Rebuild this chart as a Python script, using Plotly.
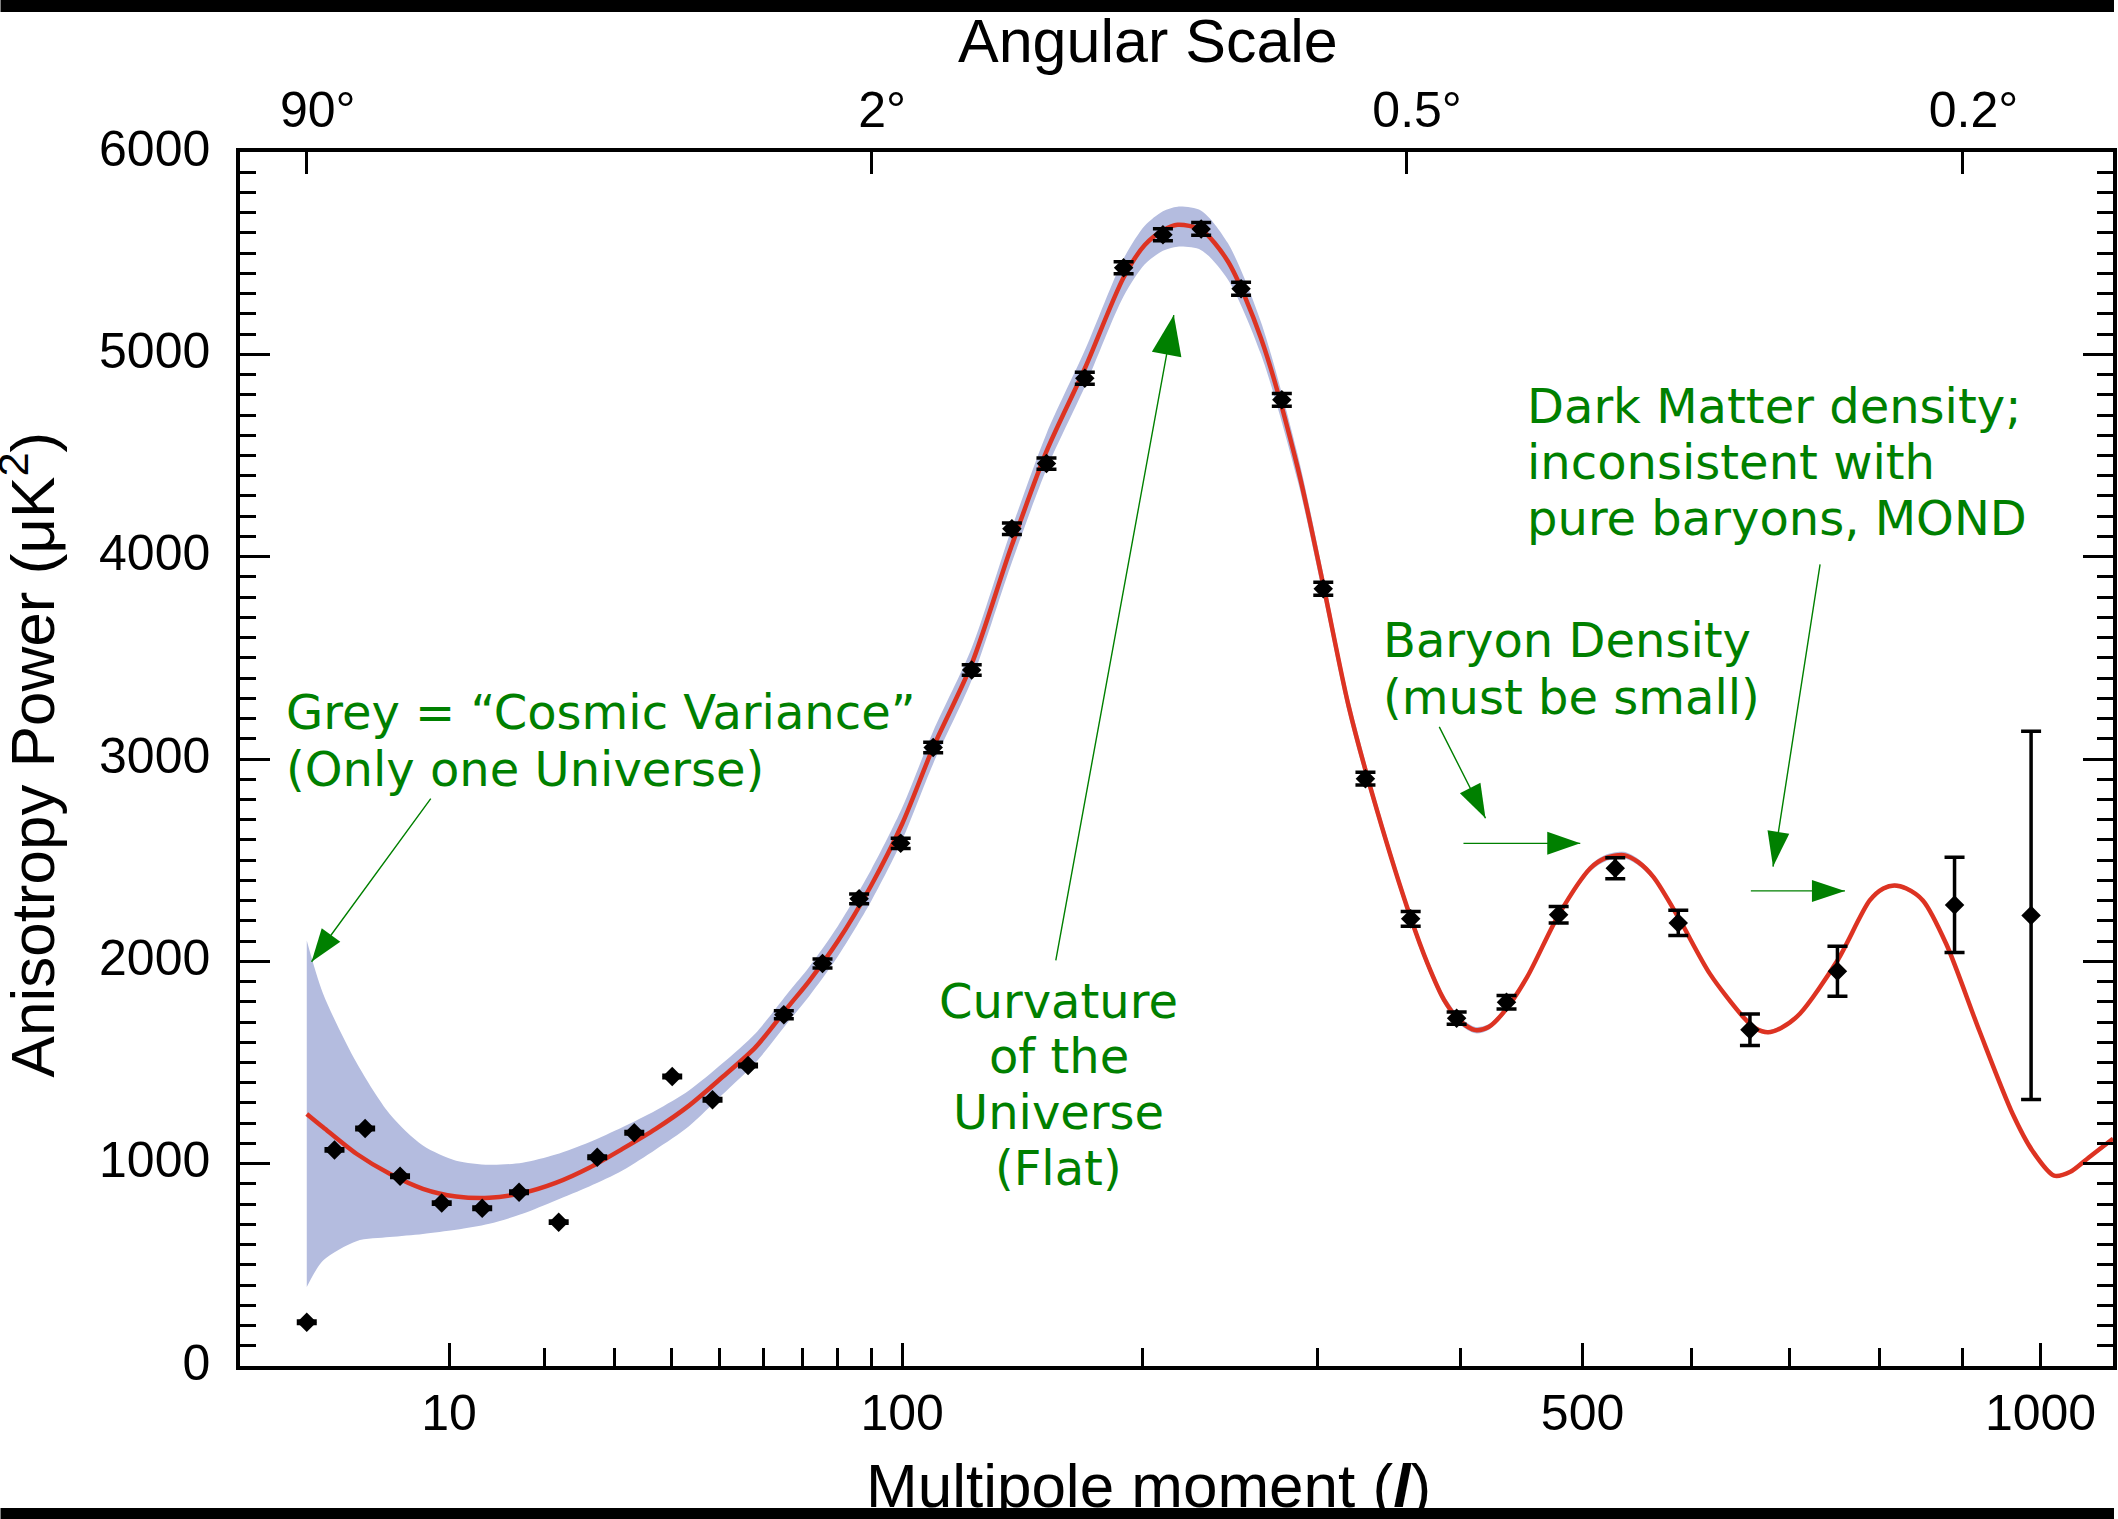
import numpy as np
import plotly.graph_objects as go

# ---------------------------------------------------------------------------
# Figure geometry
# ---------------------------------------------------------------------------
W, H = 2118, 1519
M_L, M_R, M_T, M_B = 240, 1, 152, 153
PW, PH = W - M_L - M_R, H - M_T - M_B

# The multipole axis uses a power-law (l^0.4) scale
POW = 0.4


def xs(ell):
    return np.asarray(ell, dtype=float) ** POW


L_MIN, L_MAX = 0.5036, 1098.6
P_MIN, P_MAX = 0, 6000

# ---------------------------------------------------------------------------
# Binned measurements: multipole, power (uK^2), 1-sigma error
# ---------------------------------------------------------------------------
ell_obs = [2, 3, 4.4, 6.4, 9.4, 13.0, 16.9, 21.8, 27.3, 33.3, 40.2, 48.4, 56.4,
           65.2, 75.6, 86.3, 99.5, 110.6, 124.7, 140.5, 155.0, 172.1, 190.5,
           210.3, 230.7, 253.2, 277.5, 303.6, 331.6, 363.3, 397.3, 436.3,
           479.4, 529.0, 587.7, 659.0, 752.8, 890.2, 987.6]
power_obs = [216, 1068, 1174, 938, 805, 780, 859, 711, 1032, 1153, 1431, 1316,
             1485, 1736, 1989, 2309, 2583, 3057, 3440, 4138, 4460, 4882, 5428,
             5591, 5620, 5324, 4775, 3841, 2903, 2210, 1719, 1798, 2230, 2460,
             2190, 1662, 1951, 2279, 2227]
err_obs = [6, 6, 6, 6, 6, 6, 6, 6, 6, 6, 6, 6, 6,
           20, 22, 24, 25, 26, 26, 28, 28, 30, 30, 30, 32, 32, 32, 32, 32, 36,
           30, 33, 41, 52, 62, 78, 124, 235, 910]

# ---------------------------------------------------------------------------
# Best-fit model spectrum and its cosmic-variance envelope
# ---------------------------------------------------------------------------
model_ell = [2, 2.56, 3.97, 5.76, 7.96, 10.6, 13.7, 17.3, 21.4, 26.1, 31.3,
             37.1, 43.5, 50.5, 58.2, 66.5, 71.8,
             80, 90, 100, 110.6, 124.7, 140, 155, 172.1, 190.5, 201,
             210.3, 218, 230.7, 245.6, 264.9, 287.3, 303.6, 320.3, 339.8, 363.3,
             375.5, 387.8, 400, 411.8, 422, 434.1, 453, 479.4, 506.8, 520,
             536.6, 550, 564.2, 587.7, 618.6, 652.3, 665, 677.9, 692, 711.6,
             752.8, 789.3, 805, 818, 832, 851.7, 879.9, 921, 963.5, 990,
             1018, 1040, 1065.5, 1098.6]
model_pow = [1246, 1180, 1049, 950, 876, 838, 831, 855, 905, 980, 1073,
             1172, 1287, 1427, 1576, 1780, 1900,
             2100, 2375, 2680, 3057, 3470, 4040, 4520, 4930, 5380, 5540,
             5612, 5640, 5615, 5460, 5080, 4440, 3860, 3260, 2740, 2215,
             1990, 1810, 1705, 1660, 1675, 1749, 1922, 2230, 2460, 2510,
             2525, 2490, 2416, 2218, 1938, 1724, 1668, 1650, 1672, 1741,
             2004, 2301, 2360, 2375, 2360, 2301, 2087, 1658, 1247, 1060,
             941, 960, 1032, 1123]
# envelope extent above / below the model
band_up = [857, 660, 451, 296, 214, 177, 164, 150, 140, 126, 107,
           91, 75, 68, 69, 70, 70,
           75, 78, 80, 80, 80, 85, 88, 90, 93, 95,
           95, 90, 95, 90, 80, 65, 55, 45, 35, 28,
           25, 22, 18, 16, 14, 14, 14, 14, 16, 16,
           16, 16, 14, 12, 10, 10, 10, 10, 10, 10,
           10, 10, 10, 10, 10, 10, 10, 10, 8, 8,
           8, 8, 8, 8]
band_dn = [856, 659, 432, 313, 223, 165, 128, 103, 87, 93, 107,
           102, 102, 87, 76, 75, 75,
           75, 78, 80, 80, 80, 85, 88, 90, 93, 95,
           100, 108, 100, 90, 80, 65, 55, 45, 35, 28,
           25, 22, 18, 16, 14, 14, 14, 14, 16, 16,
           16, 16, 14, 12, 10, 10, 10, 10, 10, 10,
           10, 10, 10, 10, 10, 10, 10, 10, 8, 8,
           8, 8, 8, 8]

# Top axis: angular scale (degrees) and the multipoles they correspond to
angle_labels = ["90°", "2°", "0.5°", "0.2°"]
angle_ell = [2, 90, 360, 900]

# Bottom axis ticks
major_ell = [10, 100, 500, 1000]
major_labels = ["10", "100", "500", "1000"]
minor_ell = [20, 30, 40, 50, 60, 70, 80, 90, 200, 300, 400, 600, 700, 800, 900]

# ---------------------------------------------------------------------------
# Styling
# ---------------------------------------------------------------------------
GREEN = "#008000"
RED = "#dd3322"
BAND = "#b4bcdf"
SANS = "Liberation Sans, Arial, Helvetica, sans-serif"
TICK_FONT = dict(family=SANS, size=50, color="black")
NOTE_FONT = dict(family="DejaVu Sans, Verdana, sans-serif", size=48, color=GREEN)

fig = go.Figure()

# cosmic-variance envelope
m_pow = np.asarray(model_pow, dtype=float)
env_hi = m_pow + np.asarray(band_up, dtype=float)
env_lo = m_pow - np.asarray(band_dn, dtype=float)
env_x = np.concatenate([xs(model_ell), xs(model_ell)[::-1]])
env_y = np.concatenate([env_hi, env_lo[::-1]])
fig.add_trace(go.Scatter(
    x=env_x, y=env_y, mode="lines", fill="toself", fillcolor=BAND,
    line=dict(width=0, shape="spline", smoothing=0.8),
    hoverinfo="skip", showlegend=False))

# model spectrum
fig.add_trace(go.Scatter(
    x=xs(model_ell), y=model_pow, mode="lines",
    line=dict(color=RED, width=4.5, shape="spline", smoothing=0.8),
    hoverinfo="skip", showlegend=False))

# measurements
fig.add_trace(go.Scatter(
    x=xs(ell_obs), y=power_obs, mode="markers",
    marker=dict(symbol="diamond", size=15, color="black"),
    error_y=dict(type="data", array=err_obs, color="black",
                 thickness=3.5, width=10),
    hoverinfo="skip", showlegend=False))

# empty trace that carries the angular-scale axis
fig.add_trace(go.Scatter(x=[], y=[], xaxis="x2", showlegend=False))

# ---------------------------------------------------------------------------
# Axes
# ---------------------------------------------------------------------------
x_range = [float(xs(L_MIN)), float(xs(L_MAX))]

fig.update_layout(
    xaxis=dict(
        range=x_range, tickmode="array",
        tickvals=xs(major_ell), ticktext=major_labels,
        ticks="inside", ticklen=23, tickwidth=2.5, tickcolor="black",
        showline=True, linecolor="black", linewidth=3.5, mirror=False,
        showgrid=False, zeroline=False, tickfont=TICK_FONT,
        ticklabelstandoff=0,
        minor=dict(tickmode="array", tickvals=xs(minor_ell), ticks="inside",
                   ticklen=18, tickwidth=2.5, tickcolor="black",
                   showgrid=False),
    ),
    xaxis2=dict(
        overlaying="x", side="top", anchor="y",
        range=x_range, tickmode="array",
        tickvals=xs(angle_ell), ticktext=angle_labels,
        ticks="inside", ticklen=22, tickwidth=2.5, tickcolor="black",
        showline=True, linecolor="black", linewidth=3.5,
        showgrid=False, zeroline=False, tickfont=TICK_FONT,
        ticklabelstandoff=1, ticklabelshift=11,
    ),
    yaxis=dict(
        range=[P_MIN, P_MAX], tickmode="array",
        tickvals=list(range(0, 6001, 1000)),
        ticktext=[str(v) for v in range(0, 6001, 1000)],
        ticks="inside", ticklen=30, tickwidth=3, tickcolor="black",
        showline=True, linecolor="black", linewidth=3.5, mirror="ticks",
        showgrid=False, zeroline=False, tickfont=TICK_FONT,
        ticklabelstandoff=16, ticklabelshift=-4,
        minor=dict(dtick=100, ticks="inside", ticklen=16, tickwidth=2.5,
                   tickcolor="black", showgrid=False),
    ),
)

# ---------------------------------------------------------------------------
# Annotations
# ---------------------------------------------------------------------------
annotations = []


def px_to_paper_x(px):
    return (px - M_L) / PW


def px_to_paper_y(py):
    return (M_T + PH - py) / PH


# axis titles
annotations.append(dict(
    text="Angular Scale", xref="paper", yref="paper",
    x=px_to_paper_x(1150), y=px_to_paper_y(41),
    xanchor="center", yanchor="middle", showarrow=False,
    font=dict(family=SANS, size=61, color="black")))
annotations.append(dict(
    text="Multipole moment (<b><i>l</i></b>)", xref="paper", yref="paper",
    x=px_to_paper_x(1150), y=px_to_paper_y(1485),
    xanchor="center", yanchor="middle", showarrow=False,
    font=dict(family=SANS, size=62, color="black")))
annotations.append(dict(
    text="Anisotropy Power (μK<sup>2</sup>)", xref="paper", yref="paper",
    x=px_to_paper_x(28), y=px_to_paper_y(754), textangle=-90,
    xanchor="center", yanchor="middle", showarrow=False,
    font=dict(family=SANS, size=62, color="black")))

# explanatory notes: (text, multipole, power, horizontal anchor)
notes = [
    ("Grey = “Cosmic Variance”", 1.345, 3232, "left"),
    ("(Only one Universe)", 1.345, 2953, "left"),
    ("Curvature", 160.3, 1804, "center"),
    ("of the", 160.3, 1530, "center"),
    ("Universe", 160.3, 1255, "center"),
    ("(Flat)", 160.3, 981, "center"),
    ("Baryon Density", 342.0, 3586, "left"),
    ("(must be small)", 342.0, 3306, "left"),
    ("Dark Matter density;", 451.3, 4745, "left"),
    ("inconsistent with", 451.3, 4468, "left"),
    ("pure baryons, MOND", 451.3, 4189, "left"),
]
for text, ell, pw, anchor in notes:
    annotations.append(dict(
        text=text, x=float(xs(ell)), y=pw, xref="x", yref="y",
        xanchor=anchor, yanchor="middle", showarrow=False, font=NOTE_FONT))

# arrows: tip (multipole, power), tail offset from tip in px, head length, head width
arrows = [
    (2.156, 1998, 120.3, -164.7, 33, 23),
    (216.0, 5194, -118.3, 646.8, 40, 30),
    (419.6, 2707, -47.0, -92.9, 34, 23),
    (498.0, 2583, -118.3, 0.0, 33, 23),
    (683.0, 2468, 47.3, -303.7, 35, 22),
    (761.2, 2348, -95.6, 0.0, 33, 22),
]
shapes = []
for ell, pw, tdx, tdy, hl, hw in arrows:
    tip_x = float(xs(ell))
    annotations.append(dict(
        text="", x=tip_x, y=pw, xref="x", yref="y",
        ax=tdx, ay=tdy, axref="pixel", ayref="pixel",
        showarrow=True, arrowhead=0, arrowwidth=1.4, arrowcolor=GREEN,
        standoff=0, startstandoff=0))
    # direction tail -> tip, with y pointing up (shape pixel convention)
    n = float(np.hypot(tdx, tdy))
    ux, uy = -tdx / n, tdy / n
    px_, py_ = -uy, ux
    bx, by = -hl * ux, -hl * uy
    c1 = (bx + hw / 2 * px_, by + hw / 2 * py_)
    c2 = (bx - hw / 2 * px_, by - hw / 2 * py_)
    shapes.append(dict(
        type="path", xref="x", yref="y",
        xsizemode="pixel", ysizemode="pixel", xanchor=tip_x, yanchor=pw,
        path=f"M0,0 L{c1[0]:.2f},{c1[1]:.2f} L{c2[0]:.2f},{c2[1]:.2f} Z",
        fillcolor=GREEN, line=dict(width=0), layer="above"))

# black border strips along the top and bottom edges of the page
for y0, y1 in [(0, 12), (1508, H)]:
    shapes.append(dict(
        type="rect", xref="paper", yref="paper",
        x0=px_to_paper_x(0), x1=px_to_paper_x(W),
        y0=px_to_paper_y(y1), y1=px_to_paper_y(y0),
        fillcolor="black", line=dict(width=0), layer="above"))

fig.update_layout(
    width=W, height=H,
    margin=dict(l=M_L, r=M_R, t=M_T, b=M_B, pad=0),
    paper_bgcolor="white", plot_bgcolor="white",
    showlegend=False,
    annotations=annotations, shapes=shapes,
)

fig.write_html("out.html")
